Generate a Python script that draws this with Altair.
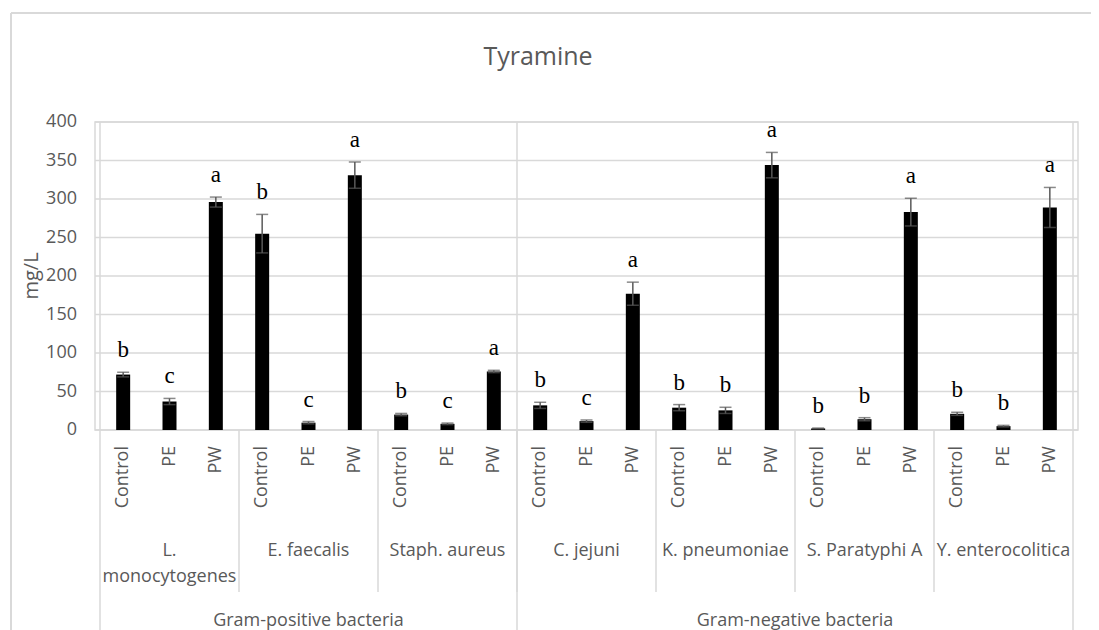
import altair as alt
import pandas as pd

# ---- data ----
species = ["L.\nmonocytogenes", "E. faecalis", "Staph. aureus", "C. jejuni",
           "K. pneumoniae", "S. Paratyphi A", "Y. enterocolitica"]
treatments = ["Control", "PE", "PW"]
gram_groups = ["Gram-positive bacteria", "Gram-negative bacteria"]
gram_sizes = [3, 4]  # number of species in each group

means = [
    [72, 37, 296],
    [255, 9.5, 331],
    [20, 8, 76],
    [32, 11.5, 177],
    [29, 25.5, 344],
    [2, 14, 283],
    [21, 5, 289],
]
errors = [
    [3, 4, 6.5],
    [25, 1.5, 17],
    [1.5, 1, 1.5],
    [4, 1.5, 15],
    [4, 4, 16.5],
    [0.5, 2, 18],
    [2, 1, 26],
]
letters = [
    ["b", "c", "a"],
    ["b", "c", "a"],
    ["b", "c", "a"],
    ["b", "c", "a"],
    ["b", "b", "a"],
    ["b", "b", "a"],
    ["b", "b", "a"],
]
y_ticks = [0, 50, 100, 150, 200, 250, 300, 350, 400]

# ---- tables ----
rows = []
for si, sp in enumerate(species):
    for ti, tr in enumerate(treatments):
        idx = si * len(treatments) + ti
        m = means[si][ti]
        e = errors[si][ti]
        rows.append({"idx": idx, "species": sp, "treatment": tr, "mean": m,
                     "lo": m - e, "hi": m + e, "letter": letters[si][ti]})
df = pd.DataFrame(rows)

nt = len(treatments)
sp_df = pd.DataFrame({"species": species,
                      "center": [si * nt + (nt - 1) / 2 for si in range(len(species))]})
inner_bounds = pd.DataFrame({"b": [si * nt - 0.5 for si in range(1, len(species))]})
outer = [-0.5]
acc = 0
for g in gram_sizes:
    acc += g
    outer.append(acc * nt - 0.5)
outer_bounds = pd.DataFrame({"b": outer})
gram_centers = []
start = 0
for g in gram_sizes:
    gram_centers.append((start * nt - 0.5 + (start + g) * nt - 0.5) / 2)
    start += g
gram_df = pd.DataFrame({"gram": gram_groups, "center": gram_centers})
grid_df = pd.DataFrame({"v": y_ticks})

W, H = 983, 308
GRAY = "#595959"
LINE = "#d9d9d9"
FONT = "Open Sans"

xs = alt.Scale(domain=[-0.5, len(species) * nt - 0.5], nice=False, zero=False)
ys = alt.Scale(domain=[0, 400], nice=False)

base = alt.Chart(df)

# gridlines and tick labels drawn from the tick list
grid = alt.Chart(grid_df).mark_rule(color=LINE, strokeWidth=1.5).encode(
    y=alt.Y("v:Q", scale=ys, axis=None), x=alt.value(0), x2=alt.value(W))
ylabels = alt.Chart(grid_df).mark_text(font=FONT, fontSize=18, color=GRAY,
                                       align="right", baseline="middle").encode(
    y=alt.Y("v:Q", scale=ys, axis=None), x=alt.value(-18), text="v:Q")

bars = base.mark_bar(size=14, color="black").encode(
    x=alt.X("idx:Q", scale=xs, axis=None),
    y=alt.Y("mean:Q", scale=ys, axis=None),
)

err = base.mark_rule(color=GRAY, strokeWidth=1.5).encode(
    x=alt.X("idx:Q", scale=xs, axis=None), y=alt.Y("lo:Q", scale=ys, axis=None), y2="hi:Q")
cap_hi = base.mark_tick(color=GRAY, thickness=1.5, size=12, orient="horizontal").encode(
    x=alt.X("idx:Q", scale=xs, axis=None), y=alt.Y("hi:Q", scale=ys, axis=None))
cap_lo = base.mark_tick(color=GRAY, thickness=1.5, size=12, orient="horizontal").encode(
    x=alt.X("idx:Q", scale=xs, axis=None), y=alt.Y("lo:Q", scale=ys, axis=None))

lett = base.mark_text(font="Liberation Serif", fontSize=23, color="black",
                      baseline="alphabetic", dy=-15).encode(
    x=alt.X("idx:Q", scale=xs, axis=None), y=alt.Y("hi:Q", scale=ys, axis=None),
    text="letter:N")

treat_lbl = base.mark_text(font=FONT, fontSize=18, color=GRAY, angle=270,
                           align="right", baseline="middle").encode(
    x=alt.X("idx:Q", scale=xs, axis=None), y=alt.value(H + 16), text="treatment:N")

sp_lbl = alt.Chart(sp_df).mark_text(font=FONT, fontSize=18, color=GRAY,
                                    baseline="top", lineBreak="\n", lineHeight=26).encode(
    x=alt.X("center:Q", scale=xs, axis=None), y=alt.value(H + 112), text="species:N")

gram_lbl = alt.Chart(gram_df).mark_text(font=FONT, fontSize=18, color=GRAY,
                                        baseline="middle").encode(
    x=alt.X("center:Q", scale=xs, axis=None), y=alt.value(H + 191), text="gram:N")

inner_rules = alt.Chart(inner_bounds).mark_rule(color=LINE, strokeWidth=1.5).encode(
    x=alt.X("b:Q", scale=xs, axis=None), y=alt.value(H), y2=alt.value(H + 162))
outer_rules = alt.Chart(outer_bounds).mark_rule(color=LINE, strokeWidth=1.5).encode(
    x=alt.X("b:Q", scale=xs, axis=None), y=alt.value(0), y2=alt.value(H + 210))

one = alt.Chart(pd.DataFrame({"t": ["Tyramine"]}))
title = one.mark_text(font=FONT, fontSize=25, color=GRAY, baseline="middle").encode(
    x=alt.value(443), y=alt.value(-65), text="t:N")
ytitle = alt.Chart(pd.DataFrame({"t": ["mg/L"]})).mark_text(
    font=FONT, fontSize=20, color=GRAY, angle=270, baseline="middle").encode(
    x=alt.value(-63), y=alt.value(154), text="t:N")
frame_left = one.mark_rule(color=LINE, strokeWidth=2).encode(
    x=alt.value(-84), y=alt.value(-109), y2=alt.value(H + 220))
frame_top = one.mark_rule(color=LINE, strokeWidth=2).encode(
    x=alt.value(-84), x2=alt.value(W + 30), y=alt.value(-109))

chart = alt.layer(
    frame_left, frame_top, grid, ylabels, bars, err, cap_hi, cap_lo, lett, treat_lbl,
    sp_lbl, gram_lbl, inner_rules, outer_rules, title, ytitle
).properties(
    width=W, height=H,
    autosize=alt.AutoSizeParams(type="none"),
    padding={"left": 87, "top": 114, "right": 13, "bottom": 200},
    background="white",
).configure_view(stroke=LINE, strokeWidth=1.5)

chart.save("out.html", embed_options={"renderer": "svg", "actions": False})
